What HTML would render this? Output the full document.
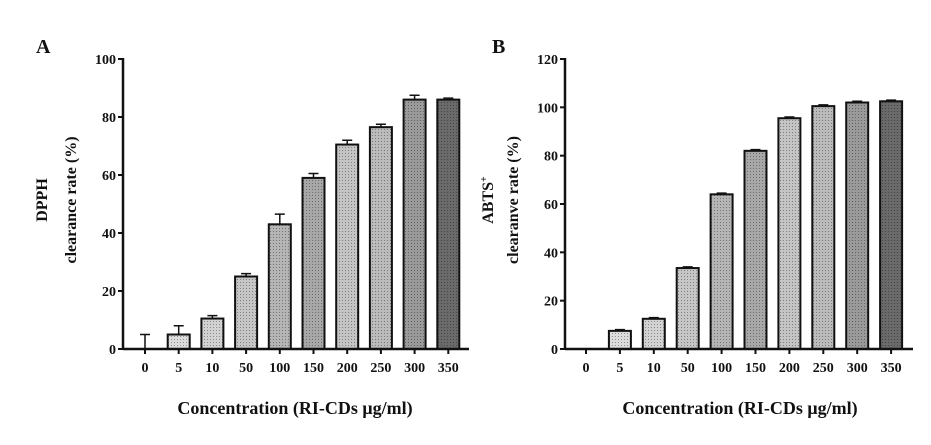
<!DOCTYPE html>
<html><head><meta charset="utf-8"><style>
body{margin:0;background:#fff;}
svg{display:block;font-family:"Liberation Serif",serif;font-weight:bold;}
</style></head><body>
<svg id="chart" width="931" height="445" viewBox="0 0 931 445">
<defs>
<pattern id="dots" width="3" height="3" patternUnits="userSpaceOnUse"><rect width="1" height="1" fill="#000" opacity="0.35"/></pattern>
</defs>
<g id="panelA"></g>
<g id="panelB"></g>
</svg>
<script>
const categories = ["0","5","10","50","100","150","200","250","300","350"];
const dpphValues = [0,5,10.5,25,43,59,70.5,76.5,86,86];
const dpphErrors = [5,3,1,1,3.5,1.5,1.5,1,1.5,0.5];
const abtsValues = [0,7.5,12.5,33.5,64,82,95.5,100.5,102,102.5];
const abtsErrors = [0,0.5,0.5,0.5,0.5,0.5,0.5,0.5,0.5,0.5];
const dpphTicks = [0,20,40,60,80,100];
const abtsTicks = [0,20,40,60,80,100,120];
const fills = ["#e6e6e6","#dcdcdc","#d2d2d2","#c6c6c6","#b5b5b5","#a8a8a8","#c4c4c4","#bbbbbb","#9a9a9a","#6a6a6a"];
const NS="http://www.w3.org/2000/svg";
function mk(p,tag,a){const e=document.createElementNS(NS,tag);for(const k in a)e.setAttribute(k,a[k]);p.appendChild(e);return e;}
function draw(g,opt){
  const {axisX,axisEnd,y0,yTop,yMax,x0,step,values,errors,ticks}=opt;
  const ys=v=>y0-(v/yMax)*(y0-yTop);
  const xs=i=>x0+i*step;
  const bw=22;
  values.forEach((v,i)=>{
    const x=xs(i)-bw/2, y=ys(v);
    if(v>0){
      const r=mk(g,"rect",{x:x,y:y,width:bw,height:y0-y,fill:fills[i],stroke:"#111","stroke-width":2});
      
      
      mk(g,"rect",{x:x,y:y,width:bw,height:y0-y,fill:"url(#dots)"});
    }
    if(errors[i]>0){
      const ye=ys(v+errors[i]);
      const l=mk(g,"path",{d:`M${xs(i)},${y} V${ye} M${xs(i)-5},${ye} H${xs(i)+5}`,stroke:"#111","stroke-width":1.5,fill:"none"});
      
      
    }
    mk(g,"line",{x1:xs(i),x2:xs(i),y1:y0,y2:y0+5,stroke:"#111","stroke-width":2});
    const t=mk(g,"text",{x:xs(i),y:y0+23,"text-anchor":"middle","font-size":14,fill:"#111"});
    t.textContent=categories[i];
    
    
  });
  mk(g,"line",{x1:axisX,x2:axisX,y1:yTop-1,y2:y0,stroke:"#111","stroke-width":2.5});
  mk(g,"line",{x1:axisX,x2:axisEnd,y1:y0,y2:y0,stroke:"#111","stroke-width":2.5});
  ticks.forEach(v=>{
    mk(g,"line",{x1:axisX-5,x2:axisX,y1:ys(v),y2:ys(v),stroke:"#111","stroke-width":2});
    const t=mk(g,"text",{x:axisX-7,y:ys(v)+5,"text-anchor":"end","font-size":14,fill:"#111"});
    t.textContent=v;
    
    
  });
}
const A=document.getElementById("panelA"), B=document.getElementById("panelB");
draw(A,{axisX:123,axisEnd:469,y0:349,yTop:59,yMax:100,x0:145,step:33.7,values:dpphValues,errors:dpphErrors,ticks:dpphTicks});
draw(B,{axisX:565,axisEnd:913,y0:349,yTop:59,yMax:120,x0:586,step:33.9,values:abtsValues,errors:abtsErrors,ticks:abtsTicks});
function txt(g,a,s,name){const t=mk(g,"text",a);t.textContent=s;return t;}
txt(A,{x:36,y:53,"font-size":20,fill:"#111"},"A","panel-label-a");
txt(B,{x:492,y:53,"font-size":20,fill:"#111"},"B","panel-label-b");
txt(A,{x:0,y:0,"font-size":16,fill:"#111","text-anchor":"middle",transform:"translate(47,200) rotate(-90)"},"DPPH","y-axis-title-line1");
txt(A,{x:0,y:0,"font-size":16,fill:"#111","text-anchor":"middle",transform:"translate(76,200) rotate(-90)"},"clearance rate (%)","y-axis-title-line2");
const ab=txt(B,{x:0,y:0,"font-size":16,fill:"#111","text-anchor":"middle",transform:"translate(493,200) rotate(-90)"},"ABTS","y-axis-title-line1");
const sup=mk(ab,"tspan",{dy:-6,"font-size":10});sup.textContent="+";
txt(B,{x:0,y:0,"font-size":16,fill:"#111","text-anchor":"middle",transform:"translate(518,200) rotate(-90)"},"clearanve rate  (%)","y-axis-title-line2");
txt(A,{x:295,y:414,"font-size":18,fill:"#111","text-anchor":"middle"},"Concentration (RI-CDs μg/ml)","x-axis-title");
txt(B,{x:740,y:414,"font-size":18,fill:"#111","text-anchor":"middle"},"Concentration (RI-CDs μg/ml)","x-axis-title");
</script>
</body></html>
